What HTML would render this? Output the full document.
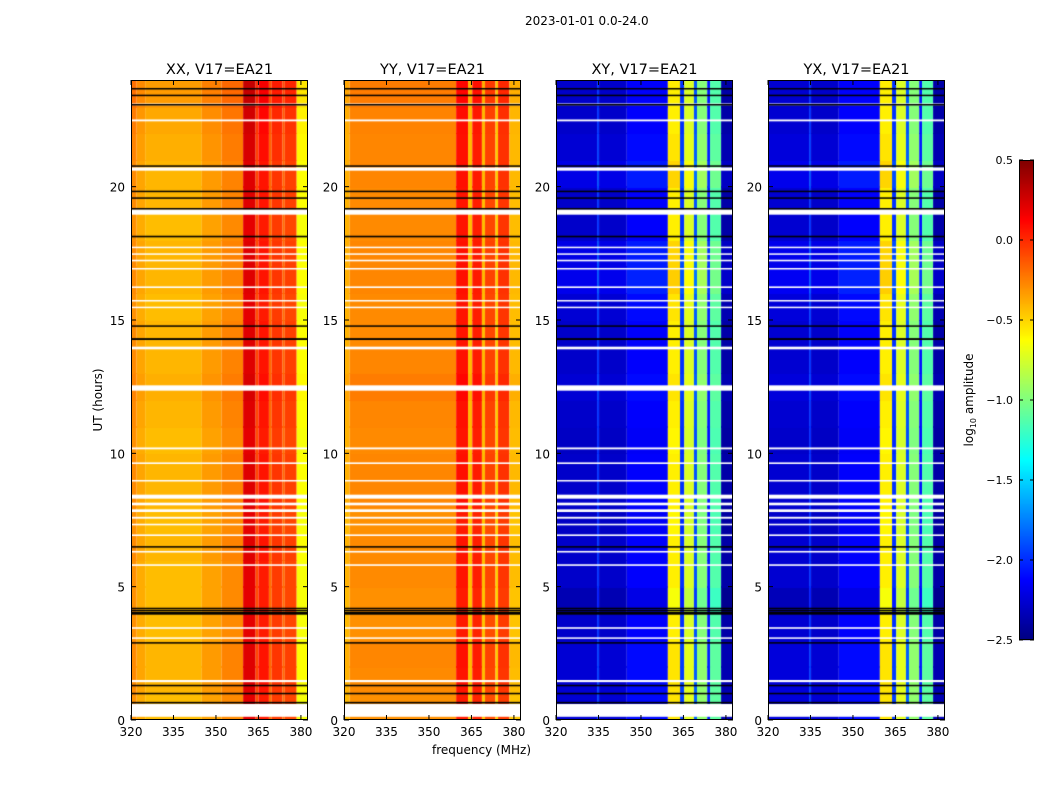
<!DOCTYPE html>
<html><head><meta charset="utf-8">
<style>
body{margin:0;background:#fff;width:1050px;height:800px;overflow:hidden;font-family:"DejaVu Sans","Liberation Sans",sans-serif;}
#root{position:relative;width:1050px;height:800px;}
.t{position:absolute;font-size:13px;color:#000;white-space:nowrap;}
canvas{position:absolute;}
</style></head>
<body><div id="root">
<div class="t" style="left:525px;top:14px;font-size:12px">2023-01-01 0.0-24.0</div>
<div class="t" style="left:432px;top:743px;font-size:12px">frequency (MHz)</div>
<div class="t" style="left:98px;top:400px;font-size:12px;transform:translate(-50%,-50%) rotate(-90deg)">UT (hours)</div>
<div class="t" style="left:970px;top:400px;font-size:12px;transform:translate(-50%,-50%) rotate(-90deg)">log<sub style="font-size:8px">10</sub> amplitude</div>
<svg id="svg" width="1050" height="800" style="position:absolute;left:0;top:0"></svg>
</div>
<script>
// ---- data ----
const panelTitles = ["XX, V17=EA21","YY, V17=EA21","XY, V17=EA21","YX, V17=EA21"];
const xTicks = [320,335,350,365,380];
const yTicks = [0,5,10,15,20];
const cbTicks = [0.5,0.0,-0.5,-1.0,-1.5,-2.0,-2.5];
// frequency band segments: [start MHz, end MHz, log10 amplitude]
const segXX = [[320,322,-0.3],[322,325,-0.38],[325,345,-0.43],[345,352,-0.35],[352,359.6,-0.28],[359.6,364,0.2],[364,365,-0.1],[365,368.7,0.05],[368.7,369.7,-0.2],[369.7,373.5,-0.05],[373.5,374.3,-0.2],[374.3,378.5,-0.08],[378.5,382.5,-0.65]];
const segYY = [[320,322,-0.42],[322,359.6,-0.3],[359.6,363.8,0.05],[363.8,365.3,-0.45],[365.3,368.7,0.02],[368.7,369.8,-0.45],[369.8,373.5,-0.1],[373.5,374.4,-0.5],[374.4,378.4,-0.05],[378.4,382.5,-0.45]];
const segXY = [[320,334.5,-2.3],[334.5,335.2,-2.0],[335.2,345,-2.3],[345,359.5,-2.15],[359.5,363.8,-0.6],[363.8,365.3,-2.0],[365.3,368.7,-0.75],[368.7,369.8,-1.9],[369.8,373.4,-1.0],[373.4,374.4,-2.1],[374.4,378.3,-1.15],[378.3,382.5,-2.4]];
const segYX = [[320,334.5,-2.28],[334.5,335.2,-2.0],[335.2,345,-2.3],[345,359.5,-2.15],[359.5,363.8,-0.6],[363.8,365.3,-2.0],[365.3,368.7,-0.75],[368.7,369.8,-1.9],[369.8,373.4,-1.0],[373.4,374.4,-2.1],[374.4,378.3,-1.15],[378.3,382.5,-2.4]];
// hourly offsets
const hourXX = [0,0.02,0.02,0,0,0,0.02,0,0.02,0.02,0,0.02,0.04,0.02,0.02,0,0.02,0.02,0,0.02,0.02,0.04,0.06,0.1];
const hourYY = [0,0.02,0.03,0,0,0.02,0.02,0,0.03,0.03,0.02,0.03,0.06,0.03,0.02,0.02,0.03,0.03,0.02,0.02,0.03,0.03,0.04,0.06];
const hourXY = [0.05,0.05,0.05,0.02,-0.05,0.02,0.02,0,0.02,0.02,0,0.02,0.05,0.02,0.02,0.05,0.12,0.1,0.02,0.02,0.1,0.05,0.02,0.02];
const hourYX = [0.05,0.05,0.05,0.02,-0.05,0.02,0.02,0,0.02,0.02,0,0.02,0.05,0.02,0.02,0.05,0.12,0.1,0.02,0.02,0.1,0.05,0.02,0.02];
// flagged intervals (hours)
const whiteFlags = [[0.12,0.6],[1.42,1.5],[3.42,3.48],[3.05,3.1],[5.78,5.84],[6.28,6.34],[6.9,6.96],[7.3,7.36],[7.55,7.62],[7.8,7.9],[8.05,8.15],[8.3,8.45],[8.95,9.0],[9.6,9.66],[10.15,10.22],[12.35,12.55],[13.9,14.0],[15.45,15.5],[15.7,15.75],[16.2,16.26],[16.9,16.95],[17.2,17.26],[17.45,17.5],[17.7,17.75],[18.95,19.15],[20.6,20.72],[22.45,22.52],[23.05,23.12]];
const blackFlags = [[0.62,0.68],[0.98,1.02],[1.27,1.32],[2.87,2.92],[3.95,4.05],[4.1,4.13],[4.18,4.21],[6.48,6.52],[14.25,14.32],[14.75,14.8],[18.1,18.16],[19.15,19.2],[19.55,19.6],[19.8,19.85],[20.75,20.8],[23.05,23.1],[23.4,23.45],[23.65,23.7]];
const panelLefts=[131,344,556,768], PW=177, PT=80, PB=720;
const segs=[segXX,segYY,segXY,segYX], hours=[hourXX,hourYY,hourXY,hourYX];
const f0=320,f1=382.5,tMax=24,vmin=-2.5,vmax=0.5;
function jet(v){let x=(v-vmin)/(vmax-vmin);x=Math.max(0,Math.min(1,x));
 const c=t=>Math.round(255*Math.max(0,Math.min(1,1.5-Math.abs(4*x-t))));
 return `rgb(${c(3)},${c(2)},${c(1)})`;}
const xs=(f,L)=>L+(f-f0)/(f1-f0)*PW;
const ys=h=>PB-h/tMax*(PB-PT);
const root=document.getElementById('root'), svg=document.getElementById('svg');
const NS="http://www.w3.org/2000/svg";
function add(tag,attrs,parent){const e=document.createElementNS(NS,tag);for(const k in attrs)e.setAttribute(k,attrs[k]);(parent||svg).appendChild(e);return e;}
const FONT='DejaVu Sans, Liberation Sans, sans-serif';
segs.forEach((seg,p)=>{
 const L=panelLefts[p];
 const cv=document.createElement('canvas');cv.width=PW;cv.height=PB-PT;cv.style.left=L+'px';cv.style.top=PT+'px';
 
 
 root.insertBefore(cv,svg);
 const ctx=cv.getContext('2d');
 for(let h=0;h<tMax;h++){
  seg.forEach(([a,b,v])=>{
   ctx.fillStyle=jet(v+hours[p][h]);
   const x0=xs(a,L)-L,x1=xs(b,L)-L;
   ctx.fillRect(x0,Math.floor(ys(h+1)-PT),x1-x0,Math.ceil(ys(h)-ys(h+1))+1);});}
 whiteFlags.forEach(([a,b])=>{ctx.fillStyle='#fff';ctx.fillRect(0,ys(b)-PT,PW,Math.max(1.5,ys(a)-ys(b)));});
 blackFlags.forEach(([a,b])=>{ctx.fillStyle='#000';ctx.fillRect(0,ys(b)-PT,PW,Math.max(1.5,ys(a)-ys(b)));});
 const fr=add('rect',{x:L+0.5,y:PT+0.5,width:PW-1,height:PB-PT-1,fill:'none',stroke:'#000','stroke-width':1});
 
 xTicks.forEach(f=>{const x=xs(f,L);
  add('line',{x1:x,x2:x,y1:PB,y2:PB-5,stroke:'#000'});add('line',{x1:x,x2:x,y1:PT,y2:PT+5,stroke:'#000'});
  const t=add('text',{x:x,y:PB+16,'text-anchor':'middle','font-size':12,'font-family':FONT});t.textContent=f;
  });
 yTicks.forEach(h=>{const y=ys(h);
  add('line',{x1:L,x2:L+5,y1:y,y2:y,stroke:'#000'});add('line',{x1:L+PW-5,x2:L+PW,y1:y,y2:y,stroke:'#000'});
  const t=add('text',{x:L-6,y:y+5,'text-anchor':'end','font-size':12,'font-family':FONT});t.textContent=h;
  });
 const tt=add('text',{x:L+PW/2,y:74,'text-anchor':'middle','font-size':14.5,'font-family':FONT});tt.textContent=panelTitles[p];
 
});
// colorbar
const CBX=1019,CBW=15,CBT=160,CBB=640;
const cbScale=v=>CBB-(v-vmin)/(vmax-vmin)*(CBB-CBT);
for(let i=0;i<CBB-CBT;i++){const v=vmin+(i+0.5)/(CBB-CBT)*(vmax-vmin);
 add('rect',{x:CBX,y:CBB-i-1,width:CBW,height:1.2,fill:jet(v)});}
const cb=add('rect',{x:CBX+0.5,y:CBT+0.5,width:CBW-1,height:CBB-CBT-1,fill:'none',stroke:'#000'});

cbTicks.forEach(v=>{const y=cbScale(v);
 add('line',{x1:CBX,x2:CBX+4,y1:y,y2:y,stroke:'#000'});add('line',{x1:CBX+CBW-4,x2:CBX+CBW,y1:y,y2:y,stroke:'#000'});
 const t=add('text',{x:CBX-6,y:y+4,'text-anchor':'end','font-size':11,'font-family':FONT});
 t.textContent=(v<0?'\u2212':'')+Math.abs(v).toFixed(1);
 });
</script>
</body></html>
